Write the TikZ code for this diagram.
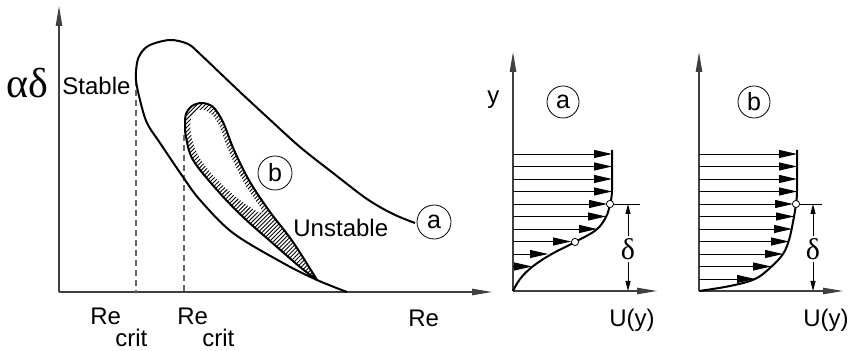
\documentclass[tikz,border=0pt]{standalone}
\usepackage{fontspec}
\setmainfont{Liberation Sans}
\newfontfamily\greekfont{Liberation Serif}
\usetikzlibrary{arrows.meta, patterns.meta}

\tikzset{
  axisline/.style={draw=black!75, line width=0.6pt, -{Triangle[length=10pt,width=3.2pt]}},
  curve/.style={line width=1pt},
  flowarrow/.style={line width=0.45pt, -{Triangle[length=9pt,width=4pt]}},
  guideline/.style={draw=black!60, line width=0.6pt, dash pattern=on 3pt off 2pt},
  txt/.style={inner sep=0pt, font=\fontsize{12}{14}\selectfont},
  badge/.style={draw, circle, line width=0.4pt, minimum size=17pt, inner sep=0pt, font=\fontsize{12.5}{15}\selectfont},
  probe/.style={draw, circle, fill=white, line width=0.4pt, minimum size=3.6pt, inner sep=0pt},
  dimline/.style={line width=0.45pt, {Triangle[length=5pt,width=2.5pt]}-{Triangle[length=5pt,width=2.5pt]}},
}

\begin{document}
\begin{tikzpicture}[x=0.5pt, y=-0.5pt]
    \useasboundingbox (0,0) rectangle (849,351);

    % stability diagram
    \coordinate (origin) at (59,292);
    \coordinate (yend) at (59,6);
    \coordinate (xend) at (492,292);
    \draw [axisline] (origin) -- (yend);
    \draw [axisline] (origin) -- (xend);

    \draw [guideline] (136,80) -- (136,292);
    \draw [guideline] (184,135) -- (184,292);

    % hatched loop b
    \begin{scope}
        \fill [pattern={Lines[angle=45, distance=1.45pt, line width=0.45pt]}]
            plot [smooth, tension=0.55] coordinates {(317,280) (293,242) (270,212) (250,182) (234,150) (223,122) (213,107) (202,103) (192,106) (186,114) (185,125) (186,137) (193,160) (217,190) (243,217) (277,247) (300,267) (317,280)};
        \fill [white] plot [smooth cycle, tension=0.6] coordinates {(203,110) (212,115) (220,128) (229,152) (244,183) (262,212) (240,200) (213,175) (197,153) (191,133) (191,119) (196,111)};
    \end{scope}
    \draw [curve] plot [smooth, tension=0.55] coordinates {(317,280) (293,242) (270,212) (250,182) (234,150) (223,122) (213,107) (202,103) (192,106) (186,114) (185,125) (186,137) (193,160) (217,190) (243,217) (277,247) (300,267) (317,280)};

    % neutral curve a
    \draw [curve] plot [smooth, tension=0.55] coordinates {(347,292) (317,280) (283,263) (233,233) (200,200) (183,177) (160,143) (147,123) (140,100) (136,80) (137,63) (141,53) (150,45) (170,40) (188,44) (200,54) (220,73) (240,92) (267,117) (300,147) (333,173) (367,199) (393,214) (415,223)};

    \node [txt, font=\fontsize{21}{24}\greekfont] (alphadelta) at (27,83) {αδ};
    \node [txt, anchor=base west] (stable) at (62,95) {Stable};
    \node [txt, anchor=base west] (unstable) at (293,237) {Unstable};
    \node [badge] (tagA) at (434,222) {a};
    \node [badge] (tagB) at (275,173) {b};
    \node [txt, anchor=base west] (re) at (408,327) {Re};
    \node [txt, anchor=base west] (reA) at (90,325) {Re};
    \node [txt, anchor=base west] (critA) at (115,347) {crit};
    \node [txt, anchor=base west] (reB) at (177,325) {Re};
    \node [txt, anchor=base west] (critB) at (202,347) {crit};

    % profile a
    \coordinate (originA) at (513,291);
    \draw [axisline] (originA) -- (513,52);
    \draw [axisline] (originA) -- (657,291);
    \foreach \y/\x in {154/612, 166.5/612, 179/612, 191.5/612, 204/607, 216.5/606, 229/597, 241.5/571, 254/548, 266.5/532}
        \draw [flowarrow] (513,\y) -- (\x,\y);
    \draw [curve] plot [smooth, tension=0.6] coordinates {(513,291) (520,279) (532,267) (550,255) (575,242) (596,230) (606,217) (610,204) (612,190) (612,150)};
    \node [probe] (dotA1) at (610,204) {};
    \node [probe] (dotA2) at (575,242) {};
    \coordinate (edgeA) at (640,204);
    \draw [line width=0.45pt] (dotA1) -- (edgeA);
    \draw [dimline] (628,204) -- (628,291);
    \node [fill=white, inner sep=1pt, font=\fontsize{15}{17}\greekfont] (deltaA) at (628,249) {δ};
    \node [txt, anchor=base west] (ylabel) at (487,104) {y};
    \node [badge, minimum size=16pt] (profA) at (563,102) {a};
    \node [txt, anchor=base west] (uA) at (609,327) {U(y)};

    % profile b
    \coordinate (originB) at (699,291);
    \draw [axisline] (originB) -- (699,52);
    \draw [axisline] (originB) -- (843,291);
    \foreach \y/\x in {154/797, 166.5/797, 179/797, 191.5/797, 204/793, 216.5/794, 229/792, 241.5/789, 254/783, 266.5/771, 279/755}
        \draw [flowarrow] (699,\y) -- (\x,\y);
    \draw [curve] plot [smooth, tension=0.6] coordinates {(699,291) (730,286) (755,279) (771,267) (783,254) (789,240) (793,222) (796,204) (797,190) (797,150)};
    \node [probe] (dotB) at (796,204) {};
    \coordinate (edgeB) at (822,204);
    \draw [line width=0.45pt] (dotB) -- (edgeB);
    \draw [dimline] (813,204) -- (813,291);
    \node [fill=white, inner sep=1pt, font=\fontsize{15}{17}\greekfont] (deltaB) at (813,249) {δ};
    \node [badge, minimum size=16pt] (profB) at (754,102) {b};
    \node [txt, anchor=base west] (uB) at (803,327) {U(y)};
\end{tikzpicture}
\end{document}
